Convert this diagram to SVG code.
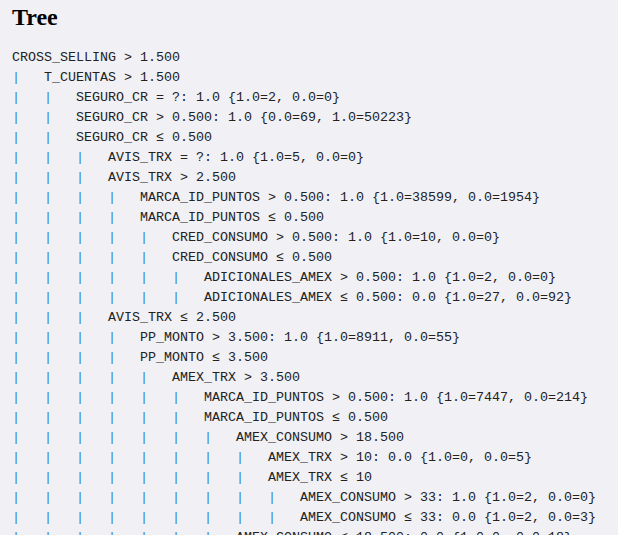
<svg xmlns="http://www.w3.org/2000/svg" width="618" height="535" viewBox="0 0 618 535">
<style>
.bg{fill:#f0f0f5}
.title{font-family:"Liberation Serif","Times New Roman",serif;font-weight:bold;font-size:24px;fill:#000}
.t{font-family:"Liberation Mono","Courier New",monospace;font-size:13.33px;fill:#222;white-space:pre}
.p{font-family:"Liberation Mono","Courier New",monospace;font-size:13.33px;fill:#3a82c8;text-anchor:middle}
</style>
<rect class="bg" x="0" y="0" width="618" height="535"/>
<text class="title" x="12" y="25">Tree</text>
<g id="connectors">
<text class="p" x="16" y="81">|</text>
<text class="p" x="16 48" y="101">||</text>
<text class="p" x="16 48" y="121">||</text>
<text class="p" x="16 48" y="141">||</text>
<text class="p" x="16 48 80" y="161">|||</text>
<text class="p" x="16 48 80" y="181">|||</text>
<text class="p" x="16 48 80 112" y="201">||||</text>
<text class="p" x="16 48 80 112" y="221">||||</text>
<text class="p" x="16 48 80 112 144" y="241">|||||</text>
<text class="p" x="16 48 80 112 144" y="261">|||||</text>
<text class="p" x="16 48 80 112 144 176" y="281">||||||</text>
<text class="p" x="16 48 80 112 144 176" y="301">||||||</text>
<text class="p" x="16 48 80" y="321">|||</text>
<text class="p" x="16 48 80 112" y="341">||||</text>
<text class="p" x="16 48 80 112" y="361">||||</text>
<text class="p" x="16 48 80 112 144" y="381">|||||</text>
<text class="p" x="16 48 80 112 144 176" y="401">||||||</text>
<text class="p" x="16 48 80 112 144 176" y="421">||||||</text>
<text class="p" x="16 48 80 112 144 176 208" y="441">|||||||</text>
<text class="p" x="16 48 80 112 144 176 208 240" y="461">||||||||</text>
<text class="p" x="16 48 80 112 144 176 208 240" y="481">||||||||</text>
<text class="p" x="16 48 80 112 144 176 208 240 272" y="501">|||||||||</text>
<text class="p" x="16 48 80 112 144 176 208 240 272" y="521">|||||||||</text>
<text class="p" x="16 48 80 112 144 176 208" y="541">|||||||</text>
</g>
<g id="n0"><text class="t" x="12" y="61">CROSS_SELLING &gt; 1.500</text></g>
<g id="n1"><text class="t" x="44" y="81">T_CUENTAS &gt; 1.500</text></g>
<g id="n2"><text class="t" x="76" y="101">SEGURO_CR = ?: 1.0 {1.0=2, 0.0=0}</text></g>
<g id="n3"><text class="t" x="76" y="121">SEGURO_CR &gt; 0.500: 1.0 {0.0=69, 1.0=50223}</text></g>
<g id="n4"><text class="t" x="76" y="141">SEGURO_CR ≤ 0.500</text></g>
<g id="n5"><text class="t" x="108" y="161">AVIS_TRX = ?: 1.0 {1.0=5, 0.0=0}</text></g>
<g id="n6"><text class="t" x="108" y="181">AVIS_TRX &gt; 2.500</text></g>
<g id="n7"><text class="t" x="140" y="201">MARCA_ID_PUNTOS &gt; 0.500: 1.0 {1.0=38599, 0.0=1954}</text></g>
<g id="n8"><text class="t" x="140" y="221">MARCA_ID_PUNTOS ≤ 0.500</text></g>
<g id="n9"><text class="t" x="172" y="241">CRED_CONSUMO &gt; 0.500: 1.0 {1.0=10, 0.0=0}</text></g>
<g id="n10"><text class="t" x="172" y="261">CRED_CONSUMO ≤ 0.500</text></g>
<g id="n11"><text class="t" x="204" y="281">ADICIONALES_AMEX &gt; 0.500: 1.0 {1.0=2, 0.0=0}</text></g>
<g id="n12"><text class="t" x="204" y="301">ADICIONALES_AMEX ≤ 0.500: 0.0 {1.0=27, 0.0=92}</text></g>
<g id="n13"><text class="t" x="108" y="321">AVIS_TRX ≤ 2.500</text></g>
<g id="n14"><text class="t" x="140" y="341">PP_MONTO &gt; 3.500: 1.0 {1.0=8911, 0.0=55}</text></g>
<g id="n15"><text class="t" x="140" y="361">PP_MONTO ≤ 3.500</text></g>
<g id="n16"><text class="t" x="172" y="381">AMEX_TRX &gt; 3.500</text></g>
<g id="n17"><text class="t" x="204" y="401">MARCA_ID_PUNTOS &gt; 0.500: 1.0 {1.0=7447, 0.0=214}</text></g>
<g id="n18"><text class="t" x="204" y="421">MARCA_ID_PUNTOS ≤ 0.500</text></g>
<g id="n19"><text class="t" x="236" y="441">AMEX_CONSUMO &gt; 18.500</text></g>
<g id="n20"><text class="t" x="268" y="461">AMEX_TRX &gt; 10: 0.0 {1.0=0, 0.0=5}</text></g>
<g id="n21"><text class="t" x="268" y="481">AMEX_TRX ≤ 10</text></g>
<g id="n22"><text class="t" x="300" y="501">AMEX_CONSUMO &gt; 33: 1.0 {1.0=2, 0.0=0}</text></g>
<g id="n23"><text class="t" x="300" y="521">AMEX_CONSUMO ≤ 33: 0.0 {1.0=2, 0.0=3}</text></g>
<g id="n24"><text class="t" x="236" y="541">AMEX_CONSUMO ≤ 18.500: 0.0 {1.0=0, 0.0=18}</text></g>
</svg>
